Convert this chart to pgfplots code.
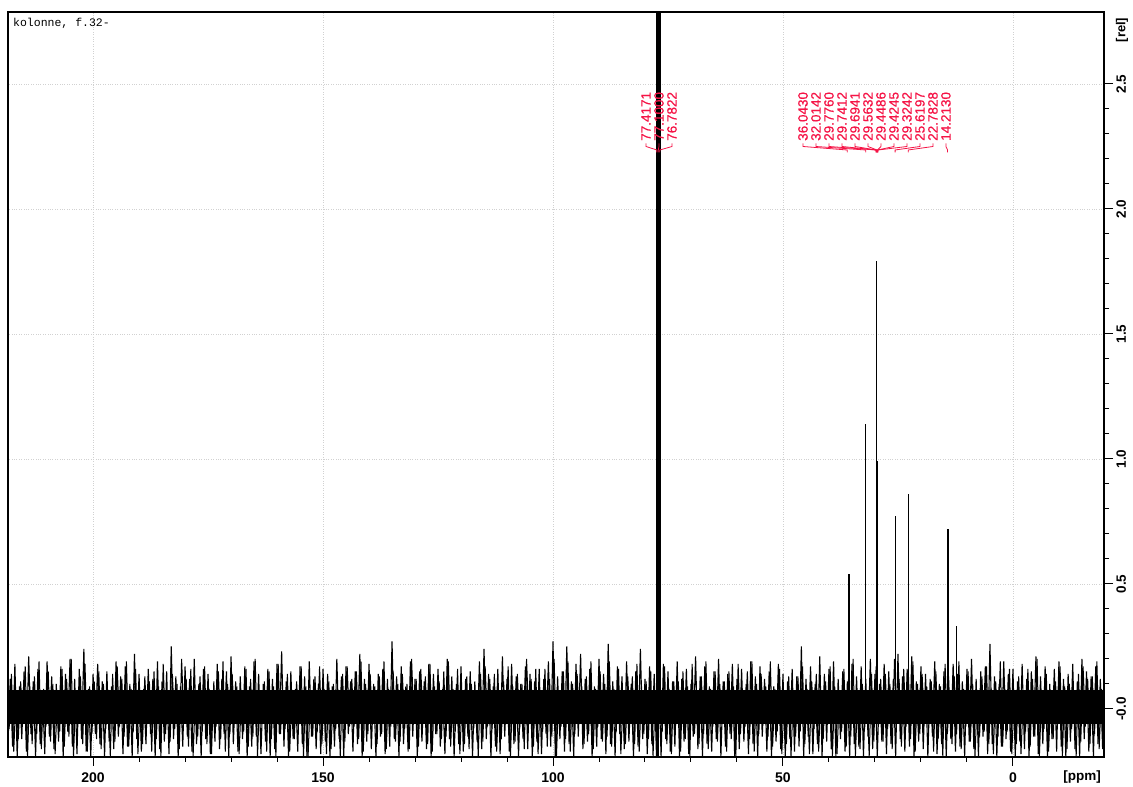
\documentclass[border=0pt]{standalone}
\usepackage{fontspec}
\setmainfont{Liberation Sans}
\setmonofont{Liberation Mono}
\newfontfamily\labfont[FakeBold=0.6]{Liberation Sans}
\usepackage{pgfplots}
\pgfplotsset{compat=1.18}
\definecolor{pk}{RGB}{245,20,70}
\tikzset{plab/.style={pk, rotate=90, anchor=west, inner sep=0pt, font=\labfont\fontsize{13.5}{15}\selectfont},
  pbr/.style={pk, line width=0.8pt}}
\begin{document}
\begin{tikzpicture}
\useasboundingbox (0,0) rectangle (1133pt,787pt);
\begin{axis}[
  name=ax,
  at={(8pt,30pt)}, anchor=south west,
  width=1096pt, height=745pt, scale only axis,
  x dir=reverse,
  xmin=-19.8, xmax=218.5, ymin=-0.192, ymax=2.788,
  xtick={0,50,100,150,200}, xticklabels={0,50,100,150,200},
  minor x tick num=4,
  ytick={0,0.5,1,1.5,2,2.5}, yticklabels={-0.0,0.5,1.0,1.5,2.0,2.5},
  minor y tick num=4,
  xtick pos=bottom, ytick pos=right, yticklabel pos=right,
  tick align=outside,
  major tick length=9pt, minor tick length=5pt,
  tick style={black, line width=1pt},
  axis line style={line width=1.2pt},
  grid=major, major grid style={dotted, black!18, line width=0.8pt},
  xticklabel style={font=\fontsize{14}{16}\selectfont\bfseries, yshift=-3pt},
  yticklabel style={font=\fontsize{13.5}{15}\selectfont\bfseries, rotate=90, anchor=north},
]
% noise core (dense part of the noise band)
\addplot[fill=black, draw=none] coordinates {(218.5,0.075) (-19.8,0.075) (-19.8,-0.06) (218.5,-0.06)} -- cycle;
% noise, layer 1
\addplot[black, line width=1.1pt, line join=bevel] coordinates {
(218.5,-0.14)
(218.0,0.12)(217.5,-0.15)(217.0,0.18)(216.5,-0.19)(216.0,0.09)(215.5,-0.12)(215.0,0.15)(214.5,-0.17)(214.0,0.21)(213.5,-0.10)
(213.0,0.11)(212.5,-0.19)(212.0,0.16)(211.5,-0.14)(211.0,0.07)(210.5,-0.18)(210.0,0.19)(209.5,-0.11)(209.0,0.13)(208.5,-0.16)
(208.0,0.10)(207.5,-0.13)(207.0,0.17)(206.5,-0.19)(206.0,0.14)(205.5,-0.09)(205.0,0.20)(204.5,-0.15)(204.0,0.12)(203.5,-0.18)
(203.0,0.16)(202.5,-0.12)(202.0,0.24)(201.5,-0.17)(201.0,0.08)(200.5,-0.19)(200.0,0.14)(199.5,-0.10)(199.0,0.18)(198.5,-0.14)
(198.0,0.11)(197.5,-0.19)(197.0,0.15)(196.5,-0.13)(196.0,0.09)(195.5,-0.16)(195.0,0.19)(194.5,-0.11)(194.0,0.13)(193.5,-0.18)
(193.0,0.17)(192.5,-0.15)(192.0,0.10)(191.5,-0.19)(191.0,0.22)(190.5,-0.12)(190.0,0.14)(189.5,-0.17)(189.0,0.08)(188.5,-0.14)
(188.0,0.16)(187.5,-0.10)(187.0,0.12)(186.5,-0.19)(186.0,0.19)(185.5,-0.16)(185.0,0.11)(184.5,-0.13)(184.0,0.15)(183.5,-0.18)
(183.0,0.25)(182.5,-0.12)(182.0,0.13)(181.5,-0.19)(181.0,0.09)(180.5,-0.15)(180.0,0.17)(179.5,-0.11)(179.0,0.12)(178.5,-0.17)
(178.0,0.20)(177.5,-0.14)(177.0,0.10)(176.5,-0.19)(176.0,0.16)(175.5,-0.12)(175.0,0.14)(174.5,-0.18)(174.0,0.07)(173.5,-0.13)
(173.0,0.18)(172.5,-0.16)(172.0,0.12)(171.5,-0.10)(171.0,0.15)(170.5,-0.19)(170.0,0.21)(169.5,-0.14)(169.0,0.11)(168.5,-0.17)
(168.0,0.13)(167.5,-0.12)(167.0,0.17)(166.5,-0.19)(166.0,0.09)(165.5,-0.15)(165.0,0.19)(164.5,-0.11)(164.0,0.14)(163.5,-0.18)
(163.0,0.10)(162.5,-0.13)(162.0,0.16)(161.5,-0.19)(161.0,0.12)(160.5,-0.16)(160.0,0.18)(159.5,-0.10)(159.0,0.23)(158.5,-0.15)
(158.0,0.11)(157.5,-0.19)(157.0,0.15)(156.5,-0.12)(156.0,0.08)(155.5,-0.17)(155.0,0.17)(154.5,-0.14)(154.0,0.13)(153.5,-0.19)
(153.0,0.19)(152.5,-0.11)(152.0,0.12)(151.5,-0.16)(151.0,0.10)(150.5,-0.18)(150.0,0.16)(149.5,-0.13)(149.0,0.14)(148.5,-0.19)
(148.0,0.09)(147.5,-0.15)(147.0,0.20)(146.5,-0.12)(146.0,0.13)(145.5,-0.19)(145.0,0.17)(144.5,-0.10)(144.0,0.11)(143.5,-0.17)
(143.0,0.15)(142.5,-0.14)(142.0,0.22)(141.5,-0.19)(141.0,0.12)(140.5,-0.13)(140.0,0.18)(139.5,-0.16)(139.0,0.10)(138.5,-0.19)
(138.0,0.14)(137.5,-0.11)(137.0,0.16)(136.5,-0.18)(136.0,0.12)(135.5,-0.15)(135.0,0.27)(134.5,-0.12)(134.0,0.13)(133.5,-0.19)
(133.0,0.17)(132.5,-0.14)(132.0,0.09)(131.5,-0.17)(131.0,0.19)(130.5,-0.11)(130.0,0.12)(129.5,-0.19)(129.0,0.15)(128.5,-0.13)
(128.0,0.11)(127.5,-0.16)(127.0,0.18)(126.5,-0.19)(126.0,0.14)(125.5,-0.10)(125.0,0.16)(124.5,-0.15)(124.0,0.08)(123.5,-0.18)
(123.0,0.20)(122.5,-0.12)(122.0,0.13)(121.5,-0.19)(121.0,0.10)(120.5,-0.14)(120.0,0.17)(119.5,-0.17)(119.0,0.12)(118.5,-0.11)
(118.0,0.15)(117.5,-0.19)(117.0,0.11)(116.5,-0.13)(116.0,0.19)(115.5,-0.16)(115.0,0.24)(114.5,-0.12)(114.0,0.14)(113.5,-0.19)
(113.0,0.09)(112.5,-0.15)(112.0,0.16)(111.5,-0.18)(111.0,0.21)(110.5,-0.11)(110.0,0.12)(109.5,-0.17)(109.0,0.18)(108.5,-0.14)
(108.0,0.13)(107.5,-0.19)(107.0,0.10)(106.5,-0.12)(106.0,0.17)(105.5,-0.16)(105.0,0.14)(104.5,-0.19)(104.0,0.11)(103.5,-0.13)
(103.0,0.16)(102.5,-0.18)(102.0,0.12)(101.5,-0.10)(101.0,0.19)(100.5,-0.15)(100.0,0.27)(99.5,-0.19)(99.0,0.13)(98.5,-0.12)
(98.0,0.15)(97.5,-0.17)(97.0,0.25)(96.5,-0.14)(96.0,0.11)(95.5,-0.19)(95.0,0.18)(94.5,-0.11)(94.0,0.22)(93.5,-0.16)
(93.0,0.12)(92.5,-0.13)(92.0,0.16)(91.5,-0.19)(91.0,0.09)(90.5,-0.15)(90.0,0.20)(89.5,-0.12)(89.0,0.14)(88.5,-0.18)
(88.0,0.26)(87.5,-0.14)(87.0,0.11)(86.5,-0.19)(86.0,0.17)(85.5,-0.10)(85.0,0.13)(84.5,-0.16)(84.0,0.19)(83.5,-0.13)
(83.0,0.10)(82.5,-0.19)(82.0,0.15)(81.5,-0.15)(81.0,0.24)(80.5,-0.12)(80.0,0.12)(79.5,-0.18)(79.0,0.17)(78.5,-0.14)
(78.0,0.14)(77.5,-0.19)(77.0,0.13)(76.5,-0.19)(76.0,0.18)(75.5,-0.12)(75.0,0.15)(74.5,-0.17)(74.0,0.11)(73.5,-0.15)
(73.0,0.19)(72.5,-0.19)(72.0,0.12)(71.5,-0.13)(71.0,0.16)(70.5,-0.18)(70.0,0.10)(69.5,-0.11)(69.0,0.21)(68.5,-0.16)
(68.0,0.13)(67.5,-0.19)(67.0,0.17)(66.5,-0.14)(66.0,0.09)(65.5,-0.17)(65.0,0.15)(64.5,-0.12)(64.0,0.20)(63.5,-0.19)
(63.0,0.11)(62.5,-0.15)(62.0,0.14)(61.5,-0.10)(61.0,0.18)(60.5,-0.19)(60.0,0.12)(59.5,-0.16)(59.0,0.16)(58.5,-0.13)
(58.0,0.10)(57.5,-0.18)(57.0,0.19)(56.5,-0.14)(56.0,0.13)(55.5,-0.19)(55.0,0.17)(54.5,-0.11)(54.0,0.12)(53.5,-0.17)
(53.0,0.15)(52.5,-0.19)(52.0,0.09)(51.5,-0.13)(51.0,0.18)(50.5,-0.16)(50.0,0.14)(49.5,-0.19)(49.0,0.11)(48.5,-0.12)
(48.0,0.16)(47.5,-0.17)(47.0,0.13)(46.5,-0.15)(46.0,0.25)(45.5,-0.19)(45.0,0.12)(44.5,-0.11)(44.0,0.17)(43.5,-0.18)
(43.0,0.10)(42.5,-0.14)(42.0,0.21)(41.5,-0.19)(41.0,0.14)(40.5,-0.13)(40.0,0.16)(39.5,-0.16)(39.0,0.19)(38.5,-0.19)
(38.0,0.12)(37.5,-0.12)(37.0,0.15)(36.5,-0.17)(36.0,0.11)(35.5,-0.19)(35.0,0.18)(34.5,-0.14)(34.0,0.13)(33.5,-0.15)
(33.0,0.17)(32.5,-0.19)(32.0,0.12)(31.5,-0.11)(31.0,0.20)(30.5,-0.16)(30.0,0.14)(29.5,-0.19)(29.0,0.10)(28.5,-0.13)
(28.0,0.18)(27.5,-0.18)(27.0,0.15)(26.5,-0.14)(26.0,0.12)(25.5,-0.19)(25.0,0.22)(24.5,-0.12)(24.0,0.13)(23.5,-0.17)
(23.0,0.16)(22.5,-0.15)(22.0,0.21)(21.5,-0.19)(21.0,0.11)(20.5,-0.13)(20.0,0.17)(19.5,-0.16)(19.0,0.14)(18.5,-0.19)
(18.0,0.12)(17.5,-0.11)(17.0,0.19)(16.5,-0.18)(16.0,0.10)(15.5,-0.14)(15.0,0.15)(14.5,-0.19)(14.0,0.13)(13.5,-0.12)
(13.0,0.18)(12.5,-0.17)(12.0,0.14)(11.5,-0.15)(11.0,0.11)(10.5,-0.19)(10.0,0.16)(9.5,-0.13)(9.0,0.20)(8.5,-0.16)
(8.0,0.12)(7.5,-0.19)(7.0,0.15)(6.5,-0.11)(6.0,0.17)(5.5,-0.18)(5.0,0.26)(4.5,-0.14)(4.0,0.13)(3.5,-0.19)
(3.0,0.10)(2.5,-0.15)(2.0,0.19)(1.5,-0.12)(1.0,0.14)(0.5,-0.17)(0.0,0.16)(-0.5,-0.19)(-1.0,0.11)(-1.5,-0.13)
(-2.0,0.18)(-2.5,-0.16)(-3.0,0.12)(-3.5,-0.19)(-4.0,0.15)(-4.5,-0.11)(-5.0,0.21)(-5.5,-0.18)(-6.0,0.13)(-6.5,-0.14)
(-7.0,0.17)(-7.5,-0.19)(-8.0,0.10)(-8.5,-0.12)(-9.0,0.16)(-9.5,-0.17)(-10.0,0.19)(-10.5,-0.15)(-11.0,0.12)(-11.5,-0.19)
(-12.0,0.14)(-12.5,-0.13)(-13.0,0.18)(-13.5,-0.16)(-14.0,0.11)(-14.5,-0.19)(-15.0,0.20)(-15.5,-0.12)(-16.0,0.15)(-16.5,-0.17)
(-17.0,0.13)(-17.5,-0.19)(-18.0,0.17)(-18.5,-0.14)(-19.0,0.12)(-19.5,-0.16)(-19.8,0.14)
};
% noise, layer 2
\addplot[black, line width=1.0pt, line join=bevel] coordinates {
(218.25,-0.08)(217.75,0.14)(217.25,-0.17)(216.75,0.06)(216.25,-0.12)(215.75,0.11)(215.25,-0.06)(214.75,0.17)(214.25,-0.19)(213.75,0.09)
(213.25,-0.14)(212.75,0.13)(212.25,-0.10)(211.75,0.19)(211.25,-0.16)(210.75,0.08)(210.25,-0.07)(209.75,0.15)(209.25,-0.13)(208.75,0.10)
(208.25,-0.18)(207.75,0.05)(207.25,-0.09)(206.75,0.16)(206.25,-0.15)(205.75,0.12)(205.25,-0.11)(204.75,0.20)(204.25,-0.19)(203.75,0.07)
(203.25,-0.05)(202.75,0.13)(202.25,-0.14)(201.75,0.18)(201.25,-0.17)(200.75,0.09)(200.25,-0.10)(199.75,0.11)(199.25,-0.12)(198.75,0.15)
(198.25,-0.16)(197.75,0.10)(197.25,-0.08)(196.75,0.06)(196.25,-0.19)(195.75,0.14)(195.25,-0.13)(194.75,0.17)(194.25,-0.07)(193.75,0.12)
(193.25,-0.11)(192.75,0.19)(192.25,-0.15)(191.75,0.08)(191.25,-0.09)(190.75,0.16)(190.25,-0.18)(189.75,0.05)(189.25,-0.14)(188.75,0.13)
(188.25,-0.06)(187.75,0.11)(187.25,-0.17)(186.75,0.15)(186.25,-0.12)(185.75,0.09)(185.25,-0.19)(184.75,0.18)(184.25,-0.10)(183.75,0.07)
(183.25,-0.13)(182.75,0.14)(182.25,-0.08)(181.75,0.10)(181.25,-0.16)(180.75,0.20)(180.25,-0.05)(179.75,0.12)(179.25,-0.15)(178.75,0.16)
(178.25,-0.19)(177.75,0.06)(177.25,-0.11)(176.75,0.13)(176.25,-0.09)(175.75,0.17)(175.25,-0.14)(174.75,0.08)(174.25,-0.18)(173.75,0.11)
(173.25,-0.07)(172.75,0.15)(172.25,-0.12)(171.75,0.19)(171.25,-0.17)(170.75,0.10)(170.25,-0.10)(169.75,0.14)(169.25,-0.06)(168.75,0.09)
(168.25,-0.18)(167.75,0.05)(167.25,-0.09)(166.75,0.16)(166.25,-0.15)(165.75,0.12)(165.25,-0.11)(164.75,0.20)(164.25,-0.19)(163.75,0.07)
(163.25,-0.06)(162.75,0.11)(162.25,-0.17)(161.75,0.15)(161.25,-0.12)(160.75,0.09)(160.25,-0.19)(159.75,0.18)(159.25,-0.10)(158.75,0.07)
(158.25,-0.08)(157.75,0.14)(157.25,-0.17)(156.75,0.06)(156.25,-0.12)(155.75,0.11)(155.25,-0.06)(154.75,0.17)(154.25,-0.19)(153.75,0.09)
(153.25,-0.19)(152.75,0.06)(152.25,-0.11)(151.75,0.13)(151.25,-0.09)(150.75,0.17)(150.25,-0.14)(149.75,0.08)(149.25,-0.18)(148.75,0.11)
(148.25,-0.16)(147.75,0.10)(147.25,-0.08)(146.75,0.06)(146.25,-0.19)(145.75,0.14)(145.25,-0.13)(144.75,0.17)(144.25,-0.07)(143.75,0.12)
(143.25,-0.07)(142.75,0.15)(142.25,-0.12)(141.75,0.19)(141.25,-0.17)(140.75,0.10)(140.25,-0.10)(139.75,0.14)(139.25,-0.06)(138.75,0.09)
(138.25,-0.14)(137.75,0.13)(137.25,-0.10)(136.75,0.19)(136.25,-0.16)(135.75,0.08)(135.25,-0.07)(134.75,0.15)(134.25,-0.13)(133.75,0.10)
(133.25,-0.13)(132.75,0.14)(132.25,-0.08)(131.75,0.10)(131.25,-0.16)(130.75,0.20)(130.25,-0.05)(129.75,0.12)(129.25,-0.15)(128.75,0.16)
(128.25,-0.05)(127.75,0.13)(127.25,-0.14)(126.75,0.18)(126.25,-0.17)(125.75,0.09)(125.25,-0.10)(124.75,0.11)(124.25,-0.12)(123.75,0.15)
(123.25,-0.11)(122.75,0.19)(122.25,-0.15)(121.75,0.08)(121.25,-0.09)(120.75,0.16)(120.25,-0.18)(119.75,0.05)(119.25,-0.14)(118.75,0.13)
(118.25,-0.16)(117.75,0.10)(117.25,-0.08)(116.75,0.06)(116.25,-0.19)(115.75,0.14)(115.25,-0.13)(114.75,0.17)(114.25,-0.07)(113.75,0.12)
(113.25,-0.08)(112.75,0.14)(112.25,-0.17)(111.75,0.06)(111.25,-0.12)(110.75,0.11)(110.25,-0.06)(109.75,0.17)(109.25,-0.19)(108.75,0.09)
(108.25,-0.13)(107.75,0.14)(107.25,-0.08)(106.75,0.10)(106.25,-0.16)(105.75,0.20)(105.25,-0.05)(104.75,0.12)(104.25,-0.15)(103.75,0.16)
(103.25,-0.18)(102.75,0.05)(102.25,-0.09)(101.75,0.16)(101.25,-0.15)(100.75,0.12)(100.25,-0.11)(99.75,0.20)(99.25,-0.19)(98.75,0.07)
(98.25,-0.07)(97.75,0.15)(97.25,-0.12)(96.75,0.19)(96.25,-0.17)(95.75,0.10)(95.25,-0.10)(94.75,0.14)(94.25,-0.06)(93.75,0.09)
(93.25,-0.14)(92.75,0.13)(92.25,-0.10)(91.75,0.19)(91.25,-0.16)(90.75,0.08)(90.25,-0.07)(89.75,0.15)(89.25,-0.13)(88.75,0.10)
(88.25,-0.11)(87.75,0.19)(87.25,-0.15)(86.75,0.08)(86.25,-0.09)(85.75,0.16)(85.25,-0.18)(84.75,0.05)(84.25,-0.14)(83.75,0.13)
(83.25,-0.05)(82.75,0.13)(82.25,-0.14)(81.75,0.18)(81.25,-0.17)(80.75,0.09)(80.25,-0.10)(79.75,0.11)(79.25,-0.12)(78.75,0.15)
(78.25,-0.19)(77.75,0.06)(77.25,-0.11)(76.75,0.13)(76.25,-0.09)(75.75,0.17)(75.25,-0.14)(74.75,0.08)(74.25,-0.18)(73.75,0.11)
(73.25,-0.06)(72.75,0.11)(72.25,-0.17)(71.75,0.15)(71.25,-0.12)(70.75,0.09)(70.25,-0.19)(69.75,0.18)(69.25,-0.10)(68.75,0.07)
(68.25,-0.14)(67.75,0.13)(67.25,-0.10)(66.75,0.19)(66.25,-0.16)(65.75,0.08)(65.25,-0.07)(64.75,0.15)(64.25,-0.13)(63.75,0.10)
(63.25,-0.06)(62.75,0.11)(62.25,-0.17)(61.75,0.15)(61.25,-0.12)(60.75,0.09)(60.25,-0.19)(59.75,0.18)(59.25,-0.10)(58.75,0.07)
(58.25,-0.07)(57.75,0.15)(57.25,-0.12)(56.75,0.19)(56.25,-0.17)(55.75,0.10)(55.25,-0.10)(54.75,0.14)(54.25,-0.06)(53.75,0.09)
(53.25,-0.11)(52.75,0.19)(52.25,-0.15)(51.75,0.08)(51.25,-0.09)(50.75,0.16)(50.25,-0.18)(49.75,0.05)(49.25,-0.14)(48.75,0.13)
(48.25,-0.19)(47.75,0.06)(47.25,-0.11)(46.75,0.13)(46.25,-0.09)(45.75,0.17)(45.25,-0.14)(44.75,0.08)(44.25,-0.18)(43.75,0.11)
(43.25,-0.08)(42.75,0.14)(42.25,-0.17)(41.75,0.06)(41.25,-0.12)(40.75,0.11)(40.25,-0.06)(39.75,0.17)(39.25,-0.19)(38.75,0.09)
(38.25,-0.18)(37.75,0.05)(37.25,-0.09)(36.75,0.16)(36.25,-0.15)(35.75,0.12)(35.25,-0.11)(34.75,0.20)(34.25,-0.19)(33.75,0.07)
(33.25,-0.16)(32.75,0.10)(32.25,-0.08)(31.75,0.06)(31.25,-0.19)(30.75,0.14)(30.25,-0.13)(29.75,0.17)(29.25,-0.07)(28.75,0.12)
(28.25,-0.13)(27.75,0.14)(27.25,-0.08)(26.75,0.10)(26.25,-0.16)(25.75,0.20)(25.25,-0.05)(24.75,0.12)(24.25,-0.15)(23.75,0.16)
(23.25,-0.07)(22.75,0.15)(22.25,-0.12)(21.75,0.19)(21.25,-0.17)(20.75,0.10)(20.25,-0.10)(19.75,0.14)(19.25,-0.06)(18.75,0.09)
(18.25,-0.06)(17.75,0.11)(17.25,-0.17)(16.75,0.15)(16.25,-0.12)(15.75,0.09)(15.25,-0.19)(14.75,0.18)(14.25,-0.10)(13.75,0.07)
(13.25,-0.14)(12.75,0.13)(12.25,-0.10)(11.75,0.19)(11.25,-0.16)(10.75,0.08)(10.25,-0.07)(9.75,0.15)(9.25,-0.13)(8.75,0.10)
(8.25,-0.19)(7.75,0.06)(7.25,-0.11)(6.75,0.13)(6.25,-0.09)(5.75,0.17)(5.25,-0.14)(4.75,0.08)(4.25,-0.18)(3.75,0.11)
(3.25,-0.11)(2.75,0.19)(2.25,-0.15)(1.75,0.08)(1.25,-0.09)(0.75,0.16)(0.25,-0.18)(-0.25,0.05)(-0.75,-0.14)(-1.25,0.13)
(-1.75,-0.18)(-2.25,0.05)(-2.75,-0.09)(-3.25,0.16)(-3.75,-0.15)(-4.25,0.12)(-4.75,-0.11)(-5.25,0.20)(-5.75,-0.19)(-6.25,0.07)
(-6.75,-0.08)(-7.25,0.14)(-7.75,-0.17)(-8.25,0.06)(-8.75,-0.12)(-9.25,0.11)(-9.75,-0.06)(-10.25,0.17)(-10.75,-0.19)(-11.25,0.09)
(-11.75,-0.16)(-12.25,0.10)(-12.75,-0.08)(-13.25,0.06)(-13.75,-0.19)(-14.25,0.14)(-14.75,-0.13)(-15.25,0.17)(-15.75,-0.07)(-16.25,0.12)
(-16.75,-0.14)(-17.25,0.13)(-17.75,-0.10)(-18.25,0.19)(-18.75,-0.16)(-19.25,0.08)(-19.75,-0.07)
};
% signals
\addplot[ycomb, black, line width=1.1pt] coordinates {
(35.65,0.54)(31.96,1.14)(29.58,1.79)(29.42,0.99)(25.62,0.77)(22.78,0.86)(14.13,0.72)(12.2,0.33)
};
% solvent (CDCl3) triplet, off scale
\addplot[ycomb, black, line width=1.6pt] coordinates {
(77.42,3.0)(77.10,3.0)(76.78,3.0)(77.10,-0.3)(77.42,-0.3)
};
% peak labels
\node[plab] at (axis cs:79.78,2.272) {77.4171};
\node[plab] at (axis cs:76.96,2.272) {77.1000};
\node[plab] at (axis cs:74.13,2.272) {76.7822};
\node[plab] at (axis cs:45.65,2.272) {36.0430};
\node[plab] at (axis cs:42.83,2.272) {32.0142};
\node[plab] at (axis cs:40.00,2.272) {29.7760};
\node[plab] at (axis cs:37.17,2.272) {29.7412};
\node[plab] at (axis cs:34.35,2.272) {29.6941};
\node[plab] at (axis cs:31.52,2.272) {29.5632};
\node[plab] at (axis cs:28.70,2.272) {29.4486};
\node[plab] at (axis cs:25.87,2.272) {29.4245};
\node[plab] at (axis cs:23.04,2.272) {29.3242};
\node[plab] at (axis cs:20.22,2.272) {25.6197};
\node[plab] at (axis cs:17.39,2.272) {22.7828};
\node[plab] at (axis cs:14.57,2.272) {14.2130};
\draw[pbr] (axis cs:79.78,2.262) -- (axis cs:79.78,2.250) -- (axis cs:77.4171,2.236) -- (axis cs:77.4171,2.226);
\draw[pbr] (axis cs:76.96,2.262) -- (axis cs:76.96,2.250) -- (axis cs:77.1000,2.236) -- (axis cs:77.1000,2.226);
\draw[pbr] (axis cs:74.13,2.262) -- (axis cs:74.13,2.250) -- (axis cs:76.7822,2.236) -- (axis cs:76.7822,2.226);
\draw[pbr] (axis cs:45.65,2.262) -- (axis cs:45.65,2.250) -- (axis cs:36.0430,2.236) -- (axis cs:36.0430,2.226);
\draw[pbr] (axis cs:42.83,2.262) -- (axis cs:42.83,2.250) -- (axis cs:32.0142,2.236) -- (axis cs:32.0142,2.226);
\draw[pbr] (axis cs:40.00,2.262) -- (axis cs:40.00,2.250) -- (axis cs:29.7760,2.236) -- (axis cs:29.7760,2.226);
\draw[pbr] (axis cs:37.17,2.262) -- (axis cs:37.17,2.250) -- (axis cs:29.7412,2.236) -- (axis cs:29.7412,2.226);
\draw[pbr] (axis cs:34.35,2.262) -- (axis cs:34.35,2.250) -- (axis cs:29.6941,2.236) -- (axis cs:29.6941,2.226);
\draw[pbr] (axis cs:31.52,2.262) -- (axis cs:31.52,2.250) -- (axis cs:29.5632,2.236) -- (axis cs:29.5632,2.226);
\draw[pbr] (axis cs:28.70,2.262) -- (axis cs:28.70,2.250) -- (axis cs:29.4486,2.236) -- (axis cs:29.4486,2.226);
\draw[pbr] (axis cs:25.87,2.262) -- (axis cs:25.87,2.250) -- (axis cs:29.4245,2.236) -- (axis cs:29.4245,2.226);
\draw[pbr] (axis cs:23.04,2.262) -- (axis cs:23.04,2.250) -- (axis cs:29.3242,2.236) -- (axis cs:29.3242,2.226);
\draw[pbr] (axis cs:20.22,2.262) -- (axis cs:20.22,2.250) -- (axis cs:25.6197,2.236) -- (axis cs:25.6197,2.226);
\draw[pbr] (axis cs:17.39,2.262) -- (axis cs:17.39,2.250) -- (axis cs:22.7828,2.236) -- (axis cs:22.7828,2.226);
\draw[pbr] (axis cs:14.57,2.262) -- (axis cs:14.57,2.250) -- (axis cs:14.2130,2.236) -- (axis cs:14.2130,2.226);
\node[anchor=north west, inner sep=0pt, font=\fontsize{11.5}{13}\ttfamily] at (rel axis cs:0,1) [xshift=5pt, yshift=-6pt] {kolonne, f.32-};
\end{axis}
\node[anchor=base, inner sep=0pt, font=\fontsize{13.5}{15}\selectfont\bfseries] at (1082pt,6pt) {[ppm]};
\node[rotate=90, anchor=center, inner sep=0pt, font=\fontsize{13}{15}\selectfont\bfseries] at (1122pt,757pt) {[rel]};
\end{tikzpicture}
\end{document}
